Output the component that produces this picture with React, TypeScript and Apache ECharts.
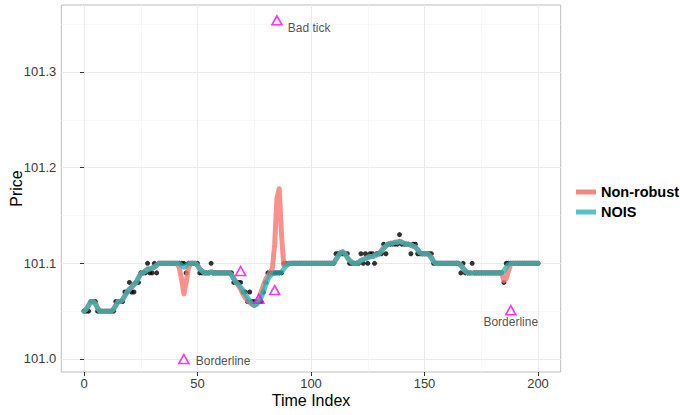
import React, { useEffect, useRef } from "react";
import * as echarts from "echarts";

// Observed prices (one tick per time index 0..200)
const observedPrice = [
  101.05, 101.05, 101.05, 101.06, 101.06, 101.06, 101.05, 101.05, 101.05, 101.05,
  101.05, 101.05, 101.05, 101.05, 101.06, 101.06, 101.06, 101.06, 101.07, 101.07,
  101.08, 101.07, 101.07, 101.08, 101.08, 101.09, 101.09, 101.09, 101.10, 101.09,
  101.09, 101.10, 101.09, 101.10, 101.10, 101.10, 101.10, 101.10, 101.10, 101.10,
  101.10, 101.10, 101.10, 101.10, 101.10, 101.09, 101.10, 101.10, 101.10, 101.10,
  101.10, 101.09, 101.09, 101.09, 101.09, 101.09, 101.10, 101.09, 101.09, 101.09,
  101.09, 101.09, 101.09, 101.09, 101.09, 101.09, 101.08, 101.08, 101.08, 101.08,
  101.07, 101.07, 101.06, 101.07, 101.06, 101.06, 101.06, 101.06, 101.06, 101.07,
  101.08, 101.09, 101.09, 101.09, 101.09, 101.09, 101.09, 101.09, 101.10, 101.10,
  101.10, 101.10, 101.10, 101.10, 101.10, 101.10, 101.10, 101.10, 101.10, 101.10,
  101.10, 101.10, 101.10, 101.10, 101.10, 101.10, 101.10, 101.10, 101.10, 101.10,
  101.10, 101.11, 101.11, 101.11, 101.11, 101.11, 101.11, 101.10, 101.10, 101.10,
  101.10, 101.10, 101.11, 101.10, 101.11, 101.10, 101.11, 101.11, 101.10, 101.11,
  101.11, 101.11, 101.12, 101.11, 101.12, 101.12, 101.12, 101.12, 101.12, 101.13,
  101.12, 101.12, 101.12, 101.12, 101.11, 101.12, 101.12, 101.11, 101.11, 101.11,
  101.11, 101.11, 101.11, 101.11, 101.10, 101.10, 101.10, 101.10, 101.10, 101.10,
  101.10, 101.10, 101.10, 101.10, 101.10, 101.10, 101.09, 101.10, 101.09, 101.09,
  101.09, 101.10, 101.09, 101.09, 101.09, 101.09, 101.09, 101.09, 101.09, 101.09,
  101.09, 101.09, 101.09, 101.09, 101.09, 101.08, 101.10, 101.10, 101.10, 101.10,
  101.10, 101.10, 101.10, 101.10, 101.10, 101.10, 101.10, 101.10, 101.10, 101.10,
  101.10,
];

// Non-robust filter estimate
const nonRobustFit = [
  101.05, 101.052, 101.056, 101.06, 101.06, 101.058, 101.053, 101.05, 101.05, 101.05,
  101.05, 101.05, 101.05, 101.052, 101.056, 101.06, 101.06, 101.062, 101.066, 101.07,
  101.073, 101.075, 101.078, 101.08, 101.085, 101.089, 101.09, 101.092, 101.094, 101.094,
  101.095, 101.096, 101.098, 101.10, 101.10, 101.10, 101.10, 101.10, 101.10, 101.10,
  101.10, 101.10, 101.095, 101.083, 101.068, 101.08, 101.095, 101.10, 101.10, 101.10,
  101.098, 101.094, 101.092, 101.09, 101.09, 101.09, 101.091, 101.09, 101.09, 101.09,
  101.09, 101.09, 101.09, 101.09, 101.09, 101.088, 101.084, 101.08, 101.077, 101.073,
  101.068, 101.064, 101.061, 101.059, 101.057, 101.056, 101.058, 101.063, 101.07, 101.077,
  101.083, 101.087, 101.09, 101.095, 101.12, 101.168, 101.178, 101.13, 101.098, 101.099,
  101.10, 101.10, 101.10, 101.10, 101.10, 101.10, 101.10, 101.10, 101.10, 101.10,
  101.10, 101.10, 101.10, 101.10, 101.10, 101.10, 101.10, 101.10, 101.10, 101.10,
  101.10, 101.104, 101.108, 101.111, 101.112, 101.11, 101.106, 101.103, 101.101, 101.10,
  101.10, 101.101, 101.103, 101.104, 101.105, 101.106, 101.107, 101.107, 101.108, 101.109,
  101.11, 101.113, 101.116, 101.118, 101.12, 101.121, 101.121, 101.122, 101.122, 101.123,
  101.122, 101.121, 101.12, 101.12, 101.119, 101.118, 101.117, 101.114, 101.111, 101.11,
  101.11, 101.11, 101.109, 101.106, 101.102, 101.10, 101.10, 101.10, 101.10, 101.10,
  101.10, 101.10, 101.10, 101.10, 101.10, 101.10, 101.098, 101.095, 101.092, 101.09,
  101.09, 101.09, 101.09, 101.09, 101.09, 101.09, 101.09, 101.09, 101.09, 101.09,
  101.09, 101.09, 101.09, 101.09, 101.09, 101.082, 101.084, 101.092, 101.099, 101.10,
  101.10, 101.10, 101.10, 101.10, 101.10, 101.10, 101.10, 101.10, 101.10, 101.10,
  101.10,
];

// NOIS (robust) filter estimate
const noisFit = [
  101.05, 101.052, 101.056, 101.06, 101.06, 101.058, 101.053, 101.05, 101.05, 101.05,
  101.05, 101.05, 101.05, 101.052, 101.056, 101.06, 101.06, 101.062, 101.066, 101.07,
  101.073, 101.075, 101.078, 101.08, 101.085, 101.089, 101.09, 101.092, 101.094, 101.094,
  101.095, 101.096, 101.098, 101.10, 101.10, 101.10, 101.10, 101.10, 101.10, 101.10,
  101.10, 101.10, 101.10, 101.098, 101.096, 101.097, 101.10, 101.10, 101.10, 101.10,
  101.098, 101.094, 101.092, 101.09, 101.09, 101.09, 101.091, 101.09, 101.09, 101.09,
  101.09, 101.09, 101.09, 101.09, 101.09, 101.088, 101.084, 101.08, 101.078, 101.075,
  101.072, 101.068, 101.064, 101.061, 101.058, 101.056, 101.057, 101.06, 101.064, 101.07,
  101.077, 101.083, 101.087, 101.089, 101.09, 101.09, 101.09, 101.091, 101.094, 101.097,
  101.099, 101.10, 101.10, 101.10, 101.10, 101.10, 101.10, 101.10, 101.10, 101.10,
  101.10, 101.10, 101.10, 101.10, 101.10, 101.10, 101.10, 101.10, 101.10, 101.10,
  101.10, 101.104, 101.108, 101.111, 101.112, 101.11, 101.106, 101.103, 101.101, 101.10,
  101.10, 101.101, 101.103, 101.104, 101.105, 101.106, 101.107, 101.107, 101.108, 101.109,
  101.11, 101.113, 101.116, 101.118, 101.12, 101.121, 101.121, 101.122, 101.122, 101.123,
  101.122, 101.121, 101.12, 101.12, 101.119, 101.118, 101.117, 101.114, 101.111, 101.11,
  101.11, 101.11, 101.109, 101.106, 101.102, 101.10, 101.10, 101.10, 101.10, 101.10,
  101.10, 101.10, 101.10, 101.10, 101.10, 101.10, 101.098, 101.095, 101.092, 101.09,
  101.09, 101.09, 101.09, 101.09, 101.09, 101.09, 101.09, 101.09, 101.09, 101.09,
  101.09, 101.09, 101.09, 101.09, 101.09, 101.092, 101.096, 101.099, 101.10, 101.10,
  101.10, 101.10, 101.10, 101.10, 101.10, 101.10, 101.10, 101.10, 101.10, 101.10,
  101.10,
];

// Flagged ticks (open triangles)
const flaggedTime = [44, 69, 77, 84, 85, 188];
const flaggedPrice = [101.0, 101.092, 101.063, 101.072, 101.354, 101.051];
const flaggedLabel = ["Borderline", "", "", "", "Bad tick", "Borderline"];

const xTickValues = [0, 50, 100, 150, 200];
const yTickValues = [101.0, 101.1, 101.2, 101.3];
const seriesNames = ["Non-robust", "NOIS"];

const FONT = "Liberation Sans, Arial, Helvetica, sans-serif";

export default function App() {
  const ref = useRef<HTMLDivElement>(null);

  useEffect(() => {
    if (!ref.current) return;
    const chart = echarts.init(ref.current, undefined, { renderer: "svg" });

    const dots = observedPrice.map((p, i) => [i, p]);
    const nonRobust = nonRobustFit.map((p, i) => [i, p]);
    const nois = noisFit.map((p, i) => [i, p]);

    const labelPlacement = (i: number) => {
      const lbl = flaggedLabel[i];
      if (!lbl) return { show: false };
      if (i === 4) return { show: true, formatter: lbl, position: "right", distance: 5, offset: [0, 8] };
      if (i === 0) return { show: true, formatter: lbl, position: "right", distance: 6, offset: [0, 2] };
      return { show: true, formatter: lbl, position: "bottom", distance: 1 };
    };

    const flagged = flaggedTime.map((t, i) => ({
      value: [t, flaggedPrice[i]],
      label: labelPlacement(i),
    }));

    const salmon = "#F8766D";
    const teal = "#1fb3b3";

    chart.setOption({
      animation: false,
      backgroundColor: "#ffffff",
      grid: {
        left: 61.3,
        right: 119.3,
        top: 5,
        bottom: 43,
        containLabel: false,
        outerBoundsMode: "none",
        show: true,
        borderColor: "#bdbdbd",
        borderWidth: 1,
        backgroundColor: "#ffffff",
      },
      legend: {
        orient: "vertical",
        left: 571,
        top: 179,
        itemWidth: 20,
        itemHeight: 5,
        itemGap: 4,
        icon: "rect",
        textStyle: { fontFamily: FONT, fontSize: 14.5, fontWeight: "bold", color: "#000", lineHeight: 16 },
        data: [
          { name: seriesNames[0], itemStyle: { color: "#f4877e" } },
          { name: seriesNames[1], itemStyle: { color: "#55c4c4" } },
        ],
      },
      xAxis: {
        type: "value",
        min: -10,
        max: 210,
        splitNumber: 4,
        name: "Time Index",
        nameLocation: "middle",
        nameGap: 20,
        nameMoveOverlap: false,
        nameTextStyle: { fontFamily: FONT, fontSize: 16, color: "#000" },
        axisLine: { show: false },
        axisTick: { show: true, length: 4, lineStyle: { color: "#333" }, customValues: xTickValues },
        axisLabel: {
          fontFamily: FONT,
          fontSize: 13,
          color: "#3a3a3a",
          margin: 5,
          customValues: xTickValues,
          formatter: (v: number) => String(v),
        },
        splitLine: { show: true, lineStyle: { color: "#ebebeb", width: 1 } },
        minorTick: { show: false, splitNumber: 2 },
        minorSplitLine: { show: true, lineStyle: { color: "#f4f4f4", width: 0.6 } },
      },
      yAxis: {
        type: "value",
        min: 100.9864,
        max: 101.37,
        splitNumber: 4,
        name: "Price",
        nameLocation: "middle",
        nameGap: 37,
        nameMoveOverlap: false,
        nameTextStyle: { fontFamily: FONT, fontSize: 16, color: "#000" },
        axisLine: { show: false },
        axisTick: { show: true, length: 4, lineStyle: { color: "#333" }, customValues: yTickValues },
        axisLabel: {
          fontFamily: FONT,
          fontSize: 13,
          color: "#3a3a3a",
          margin: 5,
          customValues: yTickValues,
          formatter: (v: number) => v.toFixed(1),
        },
        splitLine: { show: true, lineStyle: { color: "#ebebeb", width: 1 } },
        minorTick: { show: false, splitNumber: 2 },
        minorSplitLine: { show: true, lineStyle: { color: "#f4f4f4", width: 0.6 } },
      },
      series: [
        {
          name: "observed",
          type: "scatter",
          data: dots,
          symbol: "circle",
          symbolSize: 5,
          itemStyle: { color: "#000" },
          z: 2,
          silent: true,
        },
        {
          name: seriesNames[0],
          type: "line",
          data: nonRobust,
          showSymbol: false,
          symbol: "none",
          itemStyle: { color: salmon },
          lineStyle: { color: salmon, width: 5, opacity: 0.8, cap: "round", join: "round" },
          z: 3,
        },
        {
          name: seriesNames[1],
          type: "line",
          data: nois,
          showSymbol: false,
          symbol: "none",
          itemStyle: { color: teal },
          lineStyle: { color: teal, width: 5, opacity: 0.75, cap: "round", join: "round" },
          z: 4,
        },
        {
          name: "flagged",
          type: "scatter",
          data: flagged,
          symbol: "triangle",
          symbolSize: [10, 9],
          itemStyle: { color: "rgba(255,255,255,0)", borderColor: "#ff00ff", borderWidth: 1.6 },
          label: { fontFamily: FONT, fontSize: 12, color: "#222" },
          z: 5,
          silent: true,
        },
      ],
    });

    return () => chart.dispose();
  }, []);

  return (
    <div
      ref={ref}
      style={{ position: "fixed", left: 0, top: 0, width: 680, height: 415, background: "#fff" }}
    />
  );
}
